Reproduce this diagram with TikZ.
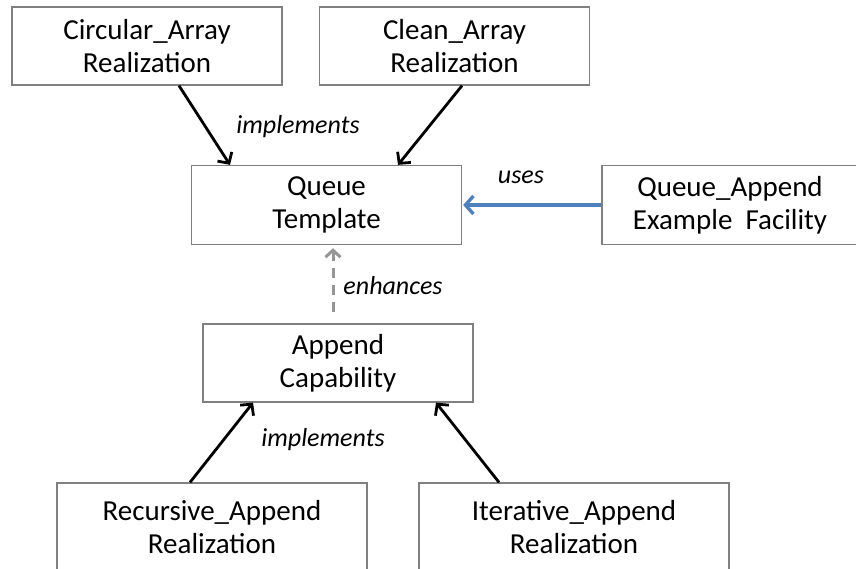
\documentclass[tikz,border=0pt]{standalone}
\usepackage{fontspec}
\setmainfont{Carlito}
\usepackage{tikz}
\usetikzlibrary{arrows.meta}
\usetikzlibrary{positioning}

\definecolor{boxgray}{RGB}{128,128,128}
\definecolor{usesblue}{RGB}{79,129,189}
\definecolor{dashgray}{RGB}{150,150,150}

\begin{document}
\begin{tikzpicture}[
            x=1pt, y=-1pt,
            squarednode/.style={rectangle, align=center, draw=boxgray, line width=1.3pt, inner sep=0pt,
                                minimum width=270pt, minimum height=78pt,
                                font=\fontsize{29}{33}\selectfont},
            relnode/.style={font=\fontsize{26}{30}\selectfont\itshape, inner sep=0pt},
            implarrow/.style={-{Straight Barb[length=8pt, width=17pt]}, line width=2.8pt},
        ]
        \useasboundingbox (0,0) rectangle (856,569);
        \clip (0,0) rectangle (856,569);

        % Nodes.
        \node[squarednode]                        (circular_array) at (147,46)    {Circular\_Array\\Realization};
        \node[squarednode]                        (clean_array)    at (454.5,46)  {Clean\_Array\\Realization};
        \node[squarednode, minimum height=79pt]   (queue_template) at (326.5,205) {Queue\\Template};
        \node[squarednode, minimum width=256pt, minimum height=79pt] (facility) at (730,205) {Queue\_Append\\Example\ \ Facility};
        \node[squarednode]                        (append_cap)     at (338,363)   {Append\\Capability};
        \node[squarednode, minimum width=310pt, minimum height=88pt] (recursive) at (212,527)   {Recursive\_Append\\Realization};
        \node[squarednode, minimum width=310pt, minimum height=88pt] (iterative) at (574,527)   {Iterative\_Append\\Realization};

        % Labels.
        \node[relnode] (impl_top)    at (298,127) {implements};
        \node[relnode] (uses)        at (521,177) {uses};
        \node[relnode] (enhances)    at (393,286) {enhances};
        \node[relnode] (impl_bottom) at (323,440) {implements};

        % Lines.
        \draw[implarrow] ([xshift=32pt]circular_array.south) -- ([xshift=-96.5pt]queue_template.north);
        \draw[implarrow] ([xshift=7.5pt]clean_array.south) -- ([xshift=71.5pt]queue_template.north);
        \draw[-{Straight Barb[length=8pt, width=18pt]}, line width=3.4pt, draw=usesblue]
            (facility.west) -- ([xshift=1pt]queue_template.east);
        \draw[-{Straight Barb[length=7pt, width=15pt]}, line width=3pt, draw=dashgray, dash pattern=on 10pt off 7pt,
              shorten <=11pt, shorten >=3pt]
            ([xshift=-5pt]append_cap.north) -- ([xshift=6.5pt]queue_template.south);
        \draw[implarrow] ([xshift=-22pt]recursive.north) -- ([xshift=-85pt]append_cap.south);
        \draw[implarrow] ([xshift=-75pt]iterative.north) -- ([xshift=98pt]append_cap.south);
    \end{tikzpicture}
\end{document}
